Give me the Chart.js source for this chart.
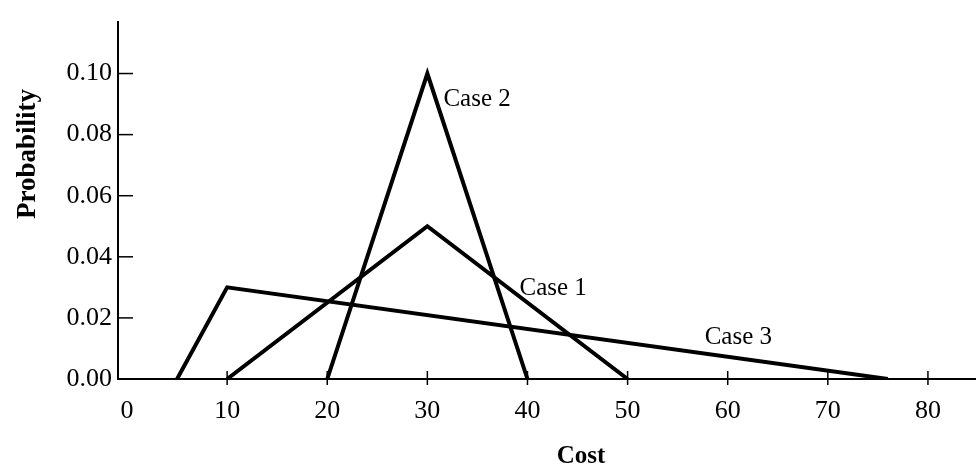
<!DOCTYPE html>
<html>
<head>
<meta charset="utf-8">
<script src="https://cdn.jsdelivr.net/npm/chart.js@4.4.0/dist/chart.umd.min.js"></script>
<style>
html,body{margin:0;padding:0;background:#fff;}
#wrap{width:976px;height:467px;position:relative;}
</style>
</head>
<body>
<div id="wrap"><canvas id="c"></canvas></div>
<script>
// ---- data ----
const case1X = [10, 30, 50];
const case1Y = [0, 0.05, 0];
const case2X = [20, 30, 40];
const case2Y = [0, 0.10, 0];
const case3X = [5, 10, 76];
const case3Y = [0, 0.03, 0];
const xTicks = [0, 10, 20, 30, 40, 50, 60, 70, 80];
const yTicks = [0, 0.02, 0.04, 0.06, 0.08, 0.10];
const seriesNames = ['Case 1', 'Case 2', 'Case 3'];
const xTitle = 'Cost';
const yTitle = 'Probability';
// label anchors (data coordinates)
const labelX = [39.2, 31.6, 57.7];
const labelY = [0.0275, 0.0893, 0.0115];

const FONT = "'Liberation Serif', 'Times New Roman', serif";

function pts(xs, ys){ return xs.map((x,i)=>({x:x, y:ys[i]})); }

const lineStyle = {borderColor:'#000', borderWidth:4, pointRadius:0, showLine:true, fill:false, tension:0, borderJoinStyle:'miter'};

const decor = {
  id:'decor',
  afterDraw(chart){
    const ctx = chart.ctx, xs = chart.scales.x, ys = chart.scales.y, ca = chart.chartArea;
    ctx.save();
    ctx.strokeStyle = '#000';
    ctx.lineWidth = 1.5;
    // y ticks pointing inward
    yTicks.forEach(v=>{
      const py = ys.getPixelForValue(v);
      ctx.beginPath(); ctx.moveTo(ca.left, py); ctx.lineTo(ca.left + 15, py); ctx.stroke();
    });
    // x ticks crossing the axis
    xTicks.forEach(v=>{
      if (v === 0) return;
      const px = xs.getPixelForValue(v);
      ctx.beginPath(); ctx.moveTo(px, ca.bottom - 8); ctx.lineTo(px, ca.bottom + 6); ctx.stroke();
    });
    // series labels
    ctx.fillStyle = '#000';
    ctx.font = "25px " + FONT;
    ctx.textAlign = 'left';
    ctx.textBaseline = 'alphabetic';
    seriesNames.forEach((n,i)=>{
      ctx.fillText(n, xs.getPixelForValue(labelX[i]), ys.getPixelForValue(labelY[i]));
    });
    // axis titles
    ctx.font = "bold 25px " + FONT;
    ctx.textAlign = 'center';
    ctx.fillText(xTitle, 581, 463);
    ctx.save();
    ctx.font = "bold 27px " + FONT;
    ctx.translate(35, 154);
    ctx.rotate(-Math.PI/2);
    ctx.textBaseline = 'alphabetic';
    ctx.fillText(yTitle, 0, 0);
    ctx.restore();
    ctx.restore();
  }
};

new Chart(document.getElementById('c'), {
  type:'scatter',
  data:{
    datasets:[
      Object.assign({label:seriesNames[0], data:pts(case1X, case1Y)}, lineStyle),
      Object.assign({label:seriesNames[1], data:pts(case2X, case2Y)}, lineStyle),
      Object.assign({label:seriesNames[2], data:pts(case3X, case3Y)}, lineStyle)
    ]
  },
  options:{
    responsive:true,
    maintainAspectRatio:false,
    animation:false,
    devicePixelRatio:1,
    layout:{padding:{top:13, right:0, left:0, bottom:0}},
    plugins:{legend:{display:false}, tooltip:{enabled:false}},
    scales:{
      x:{
        type:'linear', min:-0.9, max:84.8,
        grid:{display:false, drawTicks:false},
        border:{display:true, color:'#000', width:2},
        afterBuildTicks(s){ s.ticks = xTicks.map(v=>({value:v})); },
        afterFit(s){ s.height = 88; },
        ticks:{color:'#000', padding:17, maxRotation:0, autoSkip:false, font:{family:FONT, size:26}, callback:v=>String(v)}
      },
      y:{
        type:'linear', min:0, max:0.117,
        grid:{display:false, drawTicks:false},
        border:{display:true, color:'#000', width:2},
        afterBuildTicks(s){ s.ticks = yTicks.map(v=>({value:v})); },
        afterFit(s){ s.width = 118; },
        ticks:{color:'#000', padding:6, autoSkip:false, font:{family:FONT, size:26}, callback:v=>Number(v).toFixed(2)}
      }
    }
  },
  plugins:[decor]
});
</script>
</body>
</html>
